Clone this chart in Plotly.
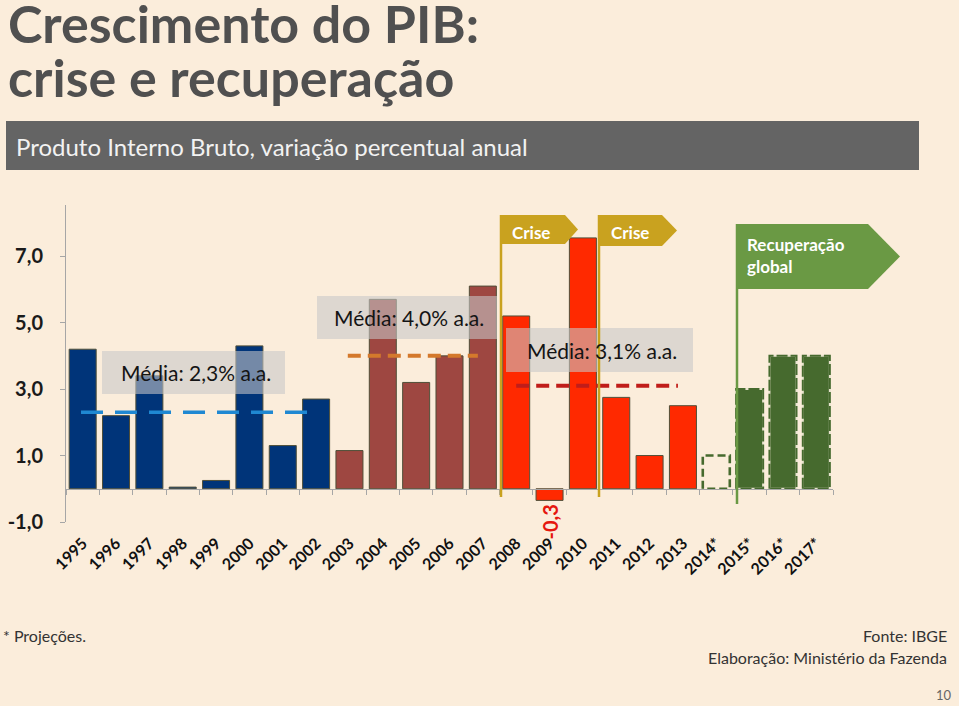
import plotly.graph_objects as go

# ---------------- data ----------------
years = ["1995", "1996", "1997", "1998", "1999", "2000", "2001", "2002", "2003", "2004",
         "2005", "2006", "2007", "2008", "2009", "2010", "2011", "2012", "2013",
         "2014*", "2015*", "2016*", "2017*"]
growth = [4.2, 2.2, 3.4, 0.05, 0.25, 4.3, 1.3, 2.7, 1.15, 5.7,
          3.2, 4.0, 6.1, 5.2, -0.35, 7.55, 2.75, 1.0, 2.5,
          1.0, 3.0, 4.0, 4.0]
period_means = [2.3, 4.0, 3.1]
period_labels = ["Média: 2,3% a.a.", "Média: 4,0% a.a.", "Média: 3,1% a.a."]
ytick_vals = [7, 5, 3, 1, -1]
ytick_text = ["7,0", "5,0", "3,0", "1,0", "-1,0"]

# ---------------- style ----------------
BG = "#FBEDDB"
NAVY = "#003479"
BROWN = "#9E4741"
RED = "#FF2900"
DGREEN = "#466A2E"
GOLD = "#C9A21F"
LGREEN = "#6A9944"
FONT = "Lato"

n_actual = 19
idx = list(range(len(years)))
colors = [NAVY] * 8 + [BROWN] * 5 + [RED] * 6
BW = 0.81
YMIN, YMAX = -1.0, 8.54

# pixel helpers for decoration placement (plot area: x 66..833, y 205..522)
L, R, T, B = 66, 833, 205, 522
def PX(px):
    return (px - L) / (R - L)
def PY(py):
    return (B - py) / (B - T)

fig = go.Figure()

# actual bars
fig.add_trace(go.Bar(
    x=idx[:n_actual], y=growth[:n_actual], width=BW,
    marker=dict(color=colors, line=dict(color="#4F4F38", width=1)),
    hoverinfo="x+y", showlegend=False))

# projection bars (fill only)
proj_idx = idx[n_actual:]
proj_vals = growth[n_actual:]
fig.add_trace(go.Bar(
    x=proj_idx, y=proj_vals, width=BW,
    marker=dict(color=["rgba(0,0,0,0)", DGREEN, DGREEN, DGREEN], line=dict(width=0)),
    showlegend=False))

# dashed outlines for projections
for k, (i, v) in enumerate(zip(proj_idx, proj_vals)):
    xs = [i - BW / 2, i - BW / 2, i + BW / 2, i + BW / 2, i - BW / 2]
    ys = [0, v, v, 0, 0]
    if k == 0:
        fig.add_trace(go.Scatter(x=xs, y=ys, mode="lines",
                                 line=dict(color=DGREEN, width=2.6, dash="8px,4px"),
                                 showlegend=False, hoverinfo="skip"))
    else:
        fig.add_trace(go.Scatter(x=xs, y=ys, mode="lines",
                                 line=dict(color="#E9E4CF", width=2),
                                 showlegend=False, hoverinfo="skip"))
        fig.add_trace(go.Scatter(x=xs, y=ys, mode="lines",
                                 line=dict(color=DGREEN, width=2, dash="11px,3px"),
                                 showlegend=False, hoverinfo="skip"))

# mean lines
mean_spans = [(-0.05, 7.05), (7.95, 11.85), (13, 17.85)]
mean_styles = [dict(color="#1F88D2", width=3.5, dash="22px,12px"),
               dict(color="#D4792C", width=4, dash="13px,7px"),
               dict(color="#C01D1A", width=4, dash="13px,7px")]
for m, (a, b), st in zip(period_means, mean_spans, mean_styles):
    fig.add_trace(go.Scatter(x=[a, b], y=[m, m], mode="lines", line=st,
                             showlegend=False, hoverinfo="skip"))

shapes = []
annotations = []

# subtitle bar
shapes.append(dict(type="rect", xref="paper", yref="paper",
                   x0=PX(6), x1=PX(919), y0=PY(121), y1=PY(170),
                   fillcolor="#646464", line=dict(width=0), layer="below"))

# mean label boxes
boxes = [(102, 285, 351, 394), (317, 497, 296, 339), (506, 693, 328, 372)]
for (x0, x1, y0, y1), lab in zip(boxes, period_labels):
    shapes.append(dict(type="rect", xref="paper", yref="paper",
                       x0=PX(x0), x1=PX(x1), y0=PY(y1), y1=PY(y0),
                       fillcolor="rgba(200,200,200,0.58)", line=dict(width=0), layer="above"))
    annotations.append(dict(xref="paper", yref="paper", x=PX((x0 + x1) / 2 + 2), y=PY((y0 + y1) / 2),
                            text=lab, showarrow=False, xanchor="center", yanchor="middle",
                            font=dict(family=FONT, size=21, color="#141414")))

# flags
def flag(xline, ytop, ybot_line, xrect, xtip, yflag_bot, color):
    shapes.append(dict(type="line", xref="paper", yref="paper",
                       x0=PX(xline), x1=PX(xline), y0=PY(ytop), y1=PY(ybot_line),
                       line=dict(color=color, width=2.5), layer="above"))
    ym = (ytop + yflag_bot) / 2
    path = (f"M {PX(xline)},{PY(ytop)} L {PX(xrect)},{PY(ytop)} L {PX(xtip)},{PY(ym)} "
            f"L {PX(xrect)},{PY(yflag_bot)} L {PX(xline)},{PY(yflag_bot)} Z")
    shapes.append(dict(type="path", xref="paper", yref="paper", path=path,
                       fillcolor=color, line=dict(width=0), layer="above"))

flag(501, 215, 497, 565, 578, 244, GOLD)
flag(599, 215, 497, 662, 677, 246, GOLD)
flag(737, 224, 504, 868, 900, 289, LGREEN)

annotations.append(dict(xref="paper", yref="paper", x=PX(531), y=PY(232), text="Crise",
                        showarrow=False, xanchor="center", yanchor="middle",
                        font=dict(family=FONT, size=17, color="white", weight="bold")))
annotations.append(dict(xref="paper", yref="paper", x=PX(630), y=PY(232), text="Crise",
                        showarrow=False, xanchor="center", yanchor="middle",
                        font=dict(family=FONT, size=17, color="white", weight="bold")))
annotations.append(dict(xref="paper", yref="paper", x=PX(745), y=PY(255),
                        text="Recuperação<br>global", align="left",
                        showarrow=False, xanchor="left", yanchor="middle",
                        font=dict(family=FONT, size=17, color="white", weight="bold")))

# data label for the negative year
neg_i = growth.index(min(growth))
annotations.append(dict(x=neg_i, y=growth[neg_i], xref="x", yref="y",
                        text="-0,3", textangle=-90, showarrow=False,
                        xanchor="center", yanchor="top", yshift=-2,
                        font=dict(family=FONT, size=20, color="#E5170F", weight="bold")))

# title
annotations.append(dict(xref="paper", yref="paper", x=PX(6), y=PY(23), text="Crescimento do PIB:",
                        showarrow=False, xanchor="left", yanchor="middle",
                        font=dict(family=FONT, size=52, color="#505050", weight="bold")))
annotations.append(dict(xref="paper", yref="paper", x=PX(6), y=PY(77), text="crise e recuperação",
                        showarrow=False, xanchor="left", yanchor="middle",
                        font=dict(family=FONT, size=52, color="#505050", weight="bold")))
annotations.append(dict(xref="paper", yref="paper", x=PX(14), y=PY(146),
                        text="Produto Interno Bruto, variação percentual anual",
                        showarrow=False, xanchor="left", yanchor="middle",
                        font=dict(family=FONT, size=24, color="#F2F2F2")))

# footer
annotations.append(dict(xref="paper", yref="paper", x=PX(1), y=PY(635), text="* Projeções.",
                        showarrow=False, xanchor="left", yanchor="middle",
                        font=dict(family=FONT, size=16, color="#333333")))
annotations.append(dict(xref="paper", yref="paper", x=PX(949), y=PY(635), text="Fonte: IBGE",
                        showarrow=False, xanchor="right", yanchor="middle",
                        font=dict(family=FONT, size=16, color="#333333")))
annotations.append(dict(xref="paper", yref="paper", x=PX(949), y=PY(657),
                        text="Elaboração: Ministério da Fazenda",
                        showarrow=False, xanchor="right", yanchor="middle",
                        font=dict(family=FONT, size=16, color="#333333")))
annotations.append(dict(xref="paper", yref="paper", x=PX(954), y=PY(695), text="10",
                        showarrow=False, xanchor="right", yanchor="middle",
                        font=dict(family=FONT, size=13, color="#666666")))

fig.update_layout(
    width=959, height=706,
    margin=dict(l=L, r=959 - R, t=T, b=706 - B, pad=0),
    paper_bgcolor=BG, plot_bgcolor=BG,
    font=dict(family=FONT),
    bargap=0.19,
    shapes=shapes, annotations=annotations,
    showlegend=False,
    xaxis=dict(
        range=[-0.5, len(years) - 0.5], automargin=False,
        tickvals=idx, ticktext=years, tickangle=-45,
        ticks="", showgrid=False, zeroline=False,
        showline=True, linecolor="#A6A6A6", linewidth=1,
        anchor="free", position=(0 - YMIN) / (YMAX - YMIN),
        ticklabelstandoff=38,
        tickfont=dict(family=FONT, size=16, color="#111111", weight="bold"),
        minor=dict(tickvals=[i - 0.5 for i in range(len(years) + 1)],
                   ticks="outside", ticklen=5, tickcolor="#A6A6A6", showgrid=False),
    ),
    yaxis=dict(
        range=[YMIN, YMAX], tickvals=ytick_vals, ticktext=ytick_text, automargin=False,
        ticks="outside", ticklen=5, tickcolor="#A6A6A6",
        showline=True, linecolor="#A6A6A6", linewidth=1,
        showgrid=False, zeroline=False, ticklabelstandoff=13,
        tickfont=dict(family=FONT, size=20, color="#1A1A1A", weight="bold"),
    ),
)

fig.write_html("out.html", config={"displayModeBar": False},
               post_script="document.body.style.margin='0';document.body.style.background='" + BG + "';")
